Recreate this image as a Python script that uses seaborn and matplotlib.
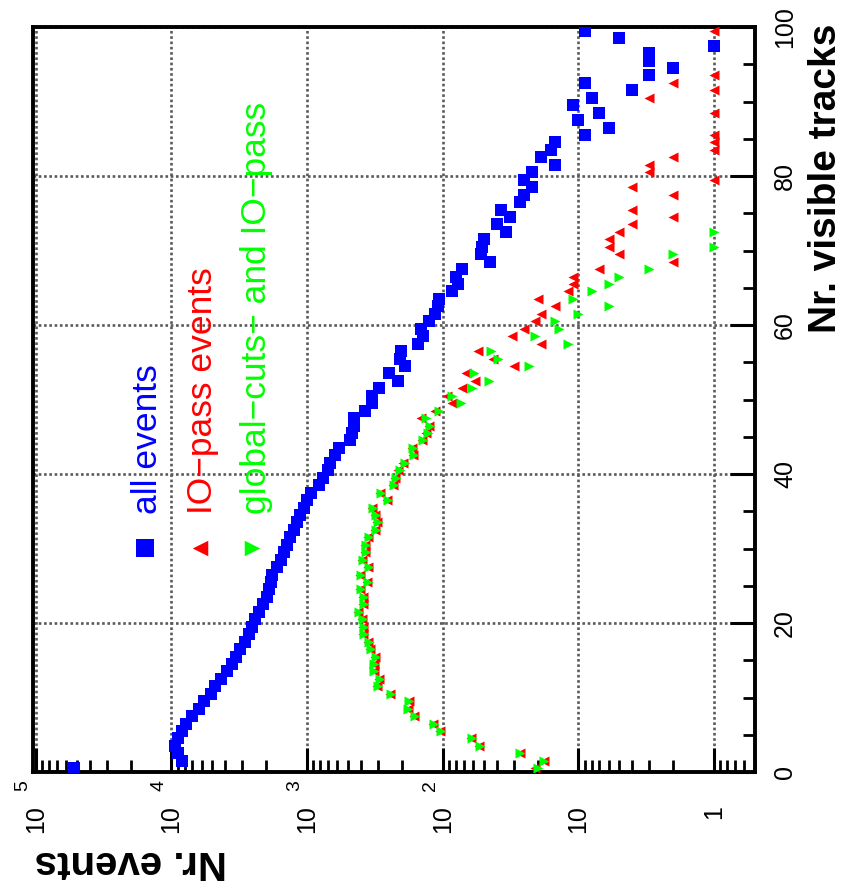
import numpy as np
import pandas as pd
import matplotlib
matplotlib.use("Agg")
import matplotlib.pyplot as plt
import seaborn as sns
from matplotlib.ticker import FixedLocator, LogLocator, MultipleLocator, NullFormatter

# Histogram bins: number of visible tracks, bin centres 0.5 ... 99.5
track_bins = np.arange(100) + 0.5

# Event counts per track bin (0 = empty bin, not drawn on the log axis)
all_events = [
    52000, 8400, 9000, 9400, 9000, 8400, 7800, 7100, 6300, 5800,
    5150, 4750, 4300, 3900, 3600, 3330, 3100, 2880, 2700, 2540,
    2400, 2270, 2120, 1970, 1910, 1860, 1800, 1660, 1570, 1480,
    1400, 1330, 1250, 1190, 1120, 1060, 1000, 930, 820, 760,
    700, 680, 620, 585, 480, 467, 454, 450, 377, 333,
    330, 294, 214, 251, 191, 206, 204, 151, 139, 144,
    127, 115, 108, 106, 86, 77, 80, 72, 45, 52,
    51, 50, 34, 40, 32, 37, 27, 25, 22, 25,
    22, 15, 19, 16, 15, 9, 6, 10, 7, 11,
    8, 4, 9, 3, 2, 3, 3, 1, 5, 9,
]
io_pass_events = [
    21, 18, 27, 54, 62, 104, 118, 163, 181, 178,
    244, 306, 293, 324, 324, 315, 343, 353, 385, 385,
    395, 418, 385, 385, 407, 363, 407, 353, 395, 374,
    374, 353, 315, 306, 315, 333, 259, 290, 231, 225,
    212, 195, 166, 168, 142, 132, 127, 145, 115, 86,
    93, 72, 58, 67, 30, 43, 55, 19, 31, 25,
    21, 19, 15, 20, 12, 11, 11, 7, 2, 5,
    6, 6, 5, 4, 2, 4, 0, 2, 4, 1,
    3, 3, 2, 1, 1, 1, 0, 0, 1, 0,
    3, 1, 2, 1, 0, 0, 0, 0, 0, 1,
]
global_cuts_io_pass = [
    20, 18, 27, 53, 61, 103, 117, 160, 179, 176,
    240, 300, 290, 320, 320, 312, 338, 348, 380, 380,
    390, 412, 380, 380, 400, 358, 400, 348, 390, 368,
    368, 348, 311, 302, 310, 328, 255, 285, 228, 222,
    208, 190, 162, 165, 139, 128, 124, 133, 106, 74,
    86, 61, 46, 59, 23, 39, 44, 12, 21, 14,
    15, 10, 6, 11, 8, 6, 5, 3, 0, 2,
    1, 0, 1, 0, 0, 0, 0, 0, 0, 0,
    0, 0, 0, 0, 0, 0, 0, 0, 0, 0,
    0, 0, 0, 0, 0, 0, 0, 0, 0, 0,
]

series_names = ["all events", "IO\u2212pass events", "global\u2212cuts\u2212 and IO\u2212pass"]
series_values = [all_events, io_pass_events, global_cuts_io_pass]
series_colors = ["#0000ff", "#ff0000", "#00ff00"]
series_markers = ["s", "<", ">"]
series_sizes = [76, 52, 52]

track_ticks = [0, 20, 40, 60, 80, 100]
event_ticks = [1e5, 1e4, 1e3, 1e2, 10, 1]
event_tick_base = ["10", "10", "10", "10", "10", "1"]
event_tick_exp = ["5", "4", "3", "2", "", ""]

sns.set_theme(style="white")
plt.rcParams["font.family"] = ["Liberation Sans", "DejaVu Sans"]

W, H = 844, 890
fig = plt.figure(figsize=(W / 100, H / 100), dpi=100)
ax = fig.add_axes([33 / W, (H - 772) / H, 722 / W, 745 / H])

for name, vals, col, mk, sz in zip(series_names, series_values, series_colors,
                                   series_markers, series_sizes):
    df = pd.DataFrame({"tracks": track_bins, "events": vals})
    df = df[df["events"] > 0]
    sns.scatterplot(data=df, x="events", y="tracks", ax=ax, color=col,
                    marker=mk, s=sz, linewidth=0, legend=False, zorder=3)

ax.set_xscale("log")
ax.set_xlim(10 ** 5.02, 0.5)
ax.set_ylim(0, 100)
ax.set_xlabel("")
ax.set_ylabel("")

# events axis (bottom): log ticks pointing inward, labels drawn separately
ax.xaxis.set_major_locator(FixedLocator(event_ticks))
ax.xaxis.set_minor_locator(LogLocator(base=10, subs=np.arange(2, 10)))
ax.xaxis.set_major_formatter(NullFormatter())
ax.xaxis.set_minor_formatter(NullFormatter())
ax.tick_params(axis="x", which="major", direction="in", length=17, width=2.2,
               color="black", bottom=True, top=False)
ax.tick_params(axis="x", which="minor", direction="in", length=8.5, width=2.0,
               color="black", bottom=True, top=False)

# tracks axis (right)
ax.yaxis.tick_right()
ax.yaxis.set_major_locator(FixedLocator(track_ticks))
ax.yaxis.set_minor_locator(MultipleLocator(5))
ax.tick_params(axis="y", which="major", direction="in", length=18, width=2.2,
               color="black", right=True, left=False, labelright=True,
               labelleft=False, labelsize=18, pad=13, labelcolor="black")
ax.tick_params(axis="y", which="minor", direction="in", length=8.5, width=2.0,
               color="black", right=True, left=False)
for lab in ax.get_yticklabels():
    lab.set_rotation(90)
    lab.set_va("center")
    lab.set_ha("left")

ax.grid(True, which="major", color="#5a5a5a", linestyle=(0, (1, 1)),
        linewidth=1.9, zorder=1)
ax.set_axisbelow(True)
for sp in ax.spines.values():
    sp.set_visible(True)
    sp.set_color("black")
    sp.set_linewidth(2.8)

# decade labels below the events axis
for v, base, exp in zip(event_ticks, event_tick_base, event_tick_exp):
    ax.annotate(base, xy=(v, 0), xycoords=("data", "axes fraction"),
                xytext=(0, -33 * 0.72), textcoords="offset points",
                rotation=90, ha="center", va="top", fontsize=18, color="black")
    if exp:
        ax.annotate(exp, xy=(v, 0), xycoords=("data", "axes fraction"),
                    xytext=(-9, -8 * 0.72), textcoords="offset points",
                    rotation=90, ha="center", va="top", fontsize=14,
                    color="black")

fig.text(826 / W, 1 - 24 / H, "Nr. visible tracks", rotation=90, ha="center",
         va="top", fontsize=28, fontweight="bold", color="black")
fig.text(35 / W, 1 - 862 / H, "Nr. events", rotation=180, ha="left",
         va="center", fontsize=29, fontweight="bold", color="black")

# legend: rotated entries inside the frame
leg_base_x = [157, 212, 266]
leg_mark_x = [145, 200, 252]
leg_sizes = [160, 125, 125]
for name, col, mk, bx, mx, sz in zip(series_names, series_colors, series_markers,
                                     leg_base_x, leg_mark_x, leg_sizes):
    fig.text(bx / W, 1 - 514 / H, name, rotation=90, rotation_mode="anchor",
             ha="left", va="baseline", fontsize=25.5, color=col)
    ax.scatter([mx / W], [1 - 548 / H], transform=fig.transFigure, marker=mk,
               s=sz, color=col, linewidth=0, clip_on=False, zorder=4)

fig.savefig("out.png", dpi=100)
